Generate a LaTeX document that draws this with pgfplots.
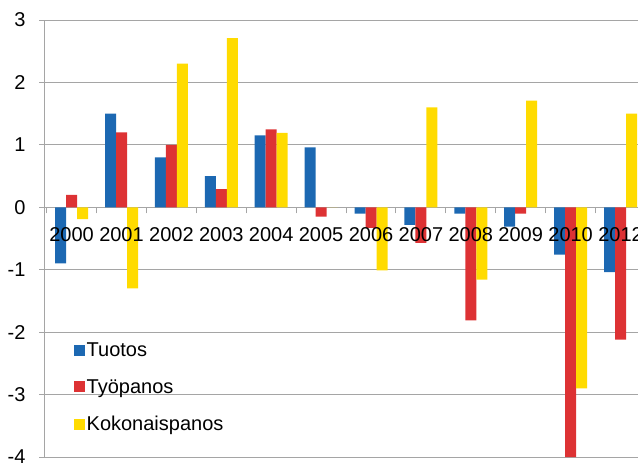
\documentclass[border=0pt]{standalone}
\usepackage{pgfplots}
\pgfplotsset{compat=1.18}
\usepackage{fontspec}
\setmainfont{Liberation Sans}

\definecolor{cblue}{RGB}{28,104,178}
\definecolor{cred}{RGB}{221,50,52}
\definecolor{cyellow}{RGB}{255,219,0}
\definecolor{cgrid}{RGB}{165,165,165}

% tick labels above the bars, grid below them
\pgfplotsset{
    layers/labels over bars/.define layer set={
        axis background,axis grid,axis ticks,axis lines,pre main,main,
        axis tick labels,axis descriptions,axis foreground}{
        grid style={/pgfplots/on layer=axis grid},
        tick style={/pgfplots/on layer=axis ticks},
        axis line style={/pgfplots/on layer=axis lines},
        label style={/pgfplots/on layer=axis descriptions},
        legend style={/pgfplots/on layer=axis descriptions},
        ticklabel style={/pgfplots/on layer=axis tick labels},
    },
}

\begin{document}
\begin{tikzpicture}
\begin{axis}[
    set layers=labels over bars,
    at={(0,0)}, anchor=south west,
    scale only axis,
    width=593pt, height=437pt,
    xmin=-0.533, xmax=11.35,
    ymin=-4, ymax=3,
    axis x line*=middle,
    axis y line*=left,
    axis line style={cgrid, line width=1pt},
    ybar=0pt, bar width=11pt,
    ytick={-4,-3,-2,-1,0,1,2,3},
    yticklabels={-4,-3,-2,-1,0,1,2,3},
    xtick={0,1,2,3,4,5,6,7,8,9,10,11},
    xticklabels={2000,2001,2002,2003,2004,2005,2006,2007,2008,2009,2010,2012},
    minor xtick={-0.5,0.5,1.5,2.5,3.5,4.5,5.5,6.5,7.5,8.5,9.5,10.5},
    major x tick style={draw=none},
    minor tick length=6pt,
    major tick length=6pt,
    tick align=outside,
    tick style={cgrid, line width=1pt},
    ymajorgrids,
    grid style={cgrid, line width=1pt},
    tick label style={font=\fontsize{20}{24}\selectfont, black},
    xticklabel style={yshift=-11pt},
    yticklabel style={xshift=-10pt},
    legend style={at={(rel axis cs:0.048,0.267)}, anchor=north west,
        draw=none, fill=none, font=\fontsize{20}{24}\selectfont,
        row sep=17.5pt, inner sep=0pt},
    legend cell align=left,
    legend image code/.code={\fill[#1] (0pt,-5.5pt) rectangle (11pt,5.5pt);},
]
\addplot[fill=cblue, draw=none] coordinates {
    (0,-0.9) (1,1.5) (2,0.8) (3,0.5) (4,1.15) (5,0.96)
    (6,-0.1) (7,-0.28) (8,-0.1) (9,-0.31) (10,-0.76) (11,-1.04)};
\addplot[fill=cred, draw=none] coordinates {
    (0,0.2) (1,1.2) (2,1.0) (3,0.29) (4,1.25) (5,-0.15)
    (6,-0.33) (7,-0.57) (8,-1.81) (9,-0.1) (10,-4.0) (11,-2.12)};
\addplot[fill=cyellow, draw=none] coordinates {
    (0,-0.19) (1,-1.3) (2,2.3) (3,2.71) (4,1.19) (5,0)
    (6,-1.01) (7,1.6) (8,-1.16) (9,1.71) (10,-2.9) (11,1.5)};
\legend{Tuotos,Työpanos,Kokonaispanos}
\end{axis}
\pgfresetboundingbox
\useasboundingbox (-45pt,-10pt) rectangle (593pt,457pt);
\end{tikzpicture}
\end{document}
